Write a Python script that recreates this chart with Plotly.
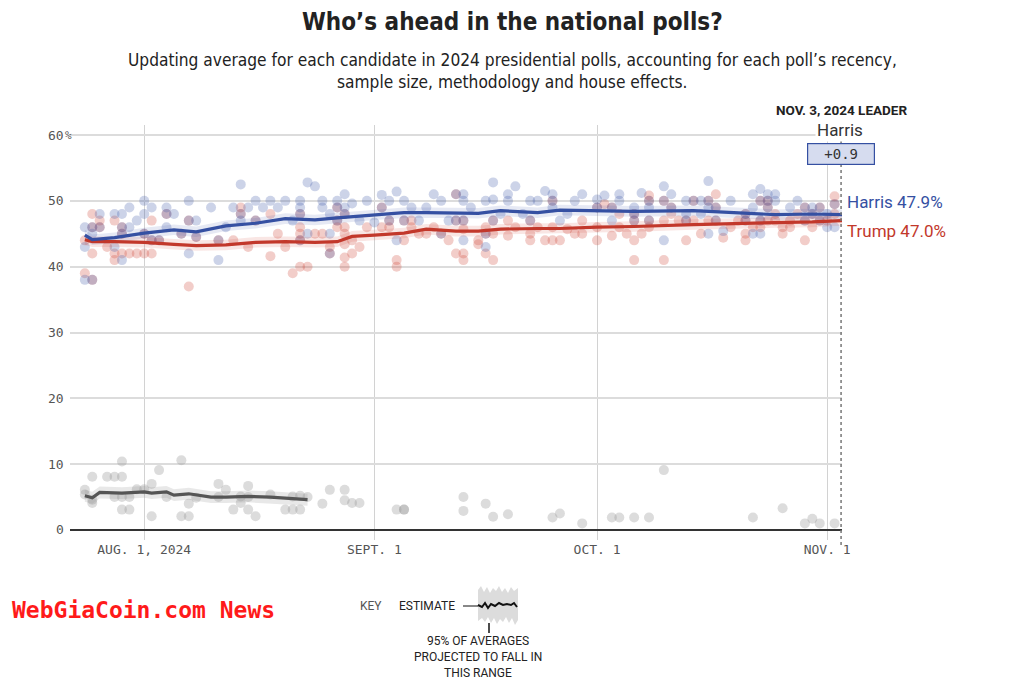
import plotly.graph_objects as go

# ---------------- DATA ----------------
trend_dates = ["2024-07-24", "2024-07-25", "2024-07-28", "2024-08-01", "2024-08-05", "2024-08-08",
               "2024-08-12", "2024-08-16", "2024-08-20", "2024-08-24", "2024-08-27", "2024-08-29",
               "2024-09-01", "2024-09-05", "2024-09-08", "2024-09-12", "2024-09-15", "2024-09-18",
               "2024-09-23", "2024-09-26", "2024-10-01", "2024-10-06", "2024-10-14", "2024-10-20",
               "2024-10-25", "2024-10-30", "2024-11-03"]
harris_trend = [44.8, 44.1, 44.4, 45.1, 45.6, 45.3, 46.2, 46.6, 47.3, 47.1, 47.4, 47.6, 47.9, 48.2,
                48.2, 48.2, 48.1, 48.5, 48.2, 48.6, 48.5, 48.4, 48.5, 48.2, 47.9, 48.0, 47.9]
trump_trend = [44.1, 43.8, 43.8, 43.7, 43.4, 43.2, 43.3, 43.7, 43.8, 43.7, 43.8, 44.6, 44.8, 45.1,
               45.7, 45.4, 45.4, 45.7, 45.8, 45.8, 46.0, 46.1, 46.4, 46.6, 46.7, 46.8, 47.0]
other_trend_dates = ["2024-07-24", "2024-07-25", "2024-07-26", "2024-07-29", "2024-08-01", "2024-08-02",
                     "2024-08-04", "2024-08-05", "2024-08-07", "2024-08-10", "2024-08-12", "2024-08-15",
                     "2024-08-18", "2024-08-20", "2024-08-23"]
other_trend = [5.2, 4.9, 5.7, 5.6, 5.8, 5.6, 5.8, 5.3, 5.5, 5.0, 5.0, 5.1, 5.0, 4.8, 4.6]

harris_polls = {
    "07-24": [46, 43, 38], "07-25": [45, 46, 38], "07-26": [48, 46], "07-28": [48, 43],
    "07-29": [48, 46, 45, 41], "07-30": [49, 46], "07-31": [47], "08-01": [50, 48, 45],
    "08-02": [49, 44], "08-03": [44], "08-04": [49, 48, 46], "08-05": [48], "08-06": [45],
    "08-07": [50, 47, 42], "08-08": [47, 44.5], "08-10": [49], "08-11": [41, 44], "08-12": [46],
    "08-13": [49], "08-14": [52.5, 48, 47], "08-15": [49], "08-16": [50, 47], "08-17": [49],
    "08-18": [50], "08-19": [49], "08-20": [50], "08-21": [47], "08-22": [50, 49, 48, 44],
    "08-23": [52.8, 45], "08-24": [52.2], "08-25": [50, 49], "08-26": [48, 45, 42],
    "08-27": [50, 49, 47], "08-28": [51, 49, 48], "08-29": [49.6], "08-30": [47], "08-31": [50],
    "09-01": [46.7], "09-02": [50.9, 49], "09-03": [50, 47], "09-04": [51.4, 44], "09-05": [50, 47],
    "09-06": [49], "09-07": [47], "09-08": [49], "09-09": [51], "09-10": [50, 45], "09-11": [47],
    "09-12": [51, 47], "09-13": [51, 50, 47, 44], "09-14": [49], "09-16": [50, 45, 43],
    "09-17": [52.8, 50.2, 47], "09-18": [48], "09-19": [51, 50], "09-20": [52.2], "09-21": [48],
    "09-22": [50, 47], "09-23": [50], "09-24": [51.5], "09-25": [51, 50, 49], "09-26": [47],
    "09-27": [48], "09-28": [50], "09-29": [51], "10-01": [50.2, 49], "10-02": [50.8],
    "10-03": [49, 47], "10-04": [51, 50], "10-06": [49, 48, 47], "10-07": [51.2], "10-08": [50, 49, 47],
    "10-10": [52.2, 50, 44], "10-11": [51, 49], "10-13": [50, 48, 47], "10-14": [50], "10-15": [50, 48],
    "10-16": [53, 50, 49, 45], "10-17": [49, 47], "10-18": [45.4], "10-19": [50], "10-21": [48, 47],
    "10-22": [51, 49, 45], "10-23": [51.8, 50, 47, 45], "10-24": [51, 50, 49], "10-25": [51, 50],
    "10-27": [49], "10-28": [50], "10-29": [49, 47], "10-30": [49, 48], "10-31": [49, 47],
    "11-01": [48, 46], "11-02": [49.5, 46],
}
trump_polls = {
    "07-24": [44, 39], "07-25": [48, 46, 42, 38], "07-26": [47, 46], "07-27": [43], "07-28": [47, 42, 41],
    "07-29": [46, 45, 42], "07-30": [42], "07-31": [42], "08-01": [45, 42], "08-02": [47, 44, 42],
    "08-03": [44], "08-04": [48], "08-06": [45], "08-07": [47, 37], "08-08": [44.5], "08-11": [44],
    "08-13": [44], "08-14": [49, 48], "08-15": [43], "08-16": [47], "08-18": [48, 41.6], "08-19": [45],
    "08-20": [43], "08-21": [39], "08-22": [48, 46, 45, 44, 40], "08-23": [40], "08-24": [45],
    "08-25": [45], "08-26": [43, 42], "08-27": [49, 47, 46], "08-28": [48, 46, 45, 43.4, 41.4, 40],
    "08-29": [44, 42], "08-30": [43], "08-31": [46], "09-02": [49, 46], "09-03": [47, 46],
    "09-04": [41, 40], "09-05": [47, 44], "09-06": [47, 46], "09-07": [45], "09-08": [45], "09-09": [46],
    "09-10": [45], "09-11": [44], "09-12": [51, 47, 42], "09-13": [47, 45.7, 42, 41], "09-15": [44, 43.4],
    "09-16": [46, 45, 42], "09-17": [47, 45, 41], "09-19": [47, 44.7], "09-20": [46], "09-22": [47, 45, 44],
    "09-23": [46], "09-24": [44], "09-25": [50, 46, 44], "09-26": [44], "09-27": [45.7], "09-28": [45],
    "09-29": [47, 45], "10-01": [49, 46, 44], "10-02": [49.5], "10-03": [49, 44.7], "10-04": [48, 46],
    "10-05": [45], "10-06": [48, 47, 44, 41], "10-07": [45], "10-08": [50.8, 50, 47, 46],
    "10-10": [50, 47, 41], "10-11": [49, 48], "10-12": [47], "10-13": [47, 44], "10-14": [50, 47],
    "10-15": [45], "10-16": [50, 47], "10-17": [51, 49, 47], "10-18": [44.4], "10-19": [46],
    "10-20": [47], "10-21": [48, 47, 45, 44], "10-22": [46], "10-23": [50, 47, 46], "10-24": [50, 49, 47],
    "10-25": [48, 47], "10-26": [46, 45], "10-27": [47, 46], "10-28": [48], "10-29": [49, 47, 44],
    "10-30": [48, 46], "10-31": [49, 47], "11-01": [47], "11-02": [50.7, 49.5, 48],
}
other_polls = {
    "07-24": [6.1, 5.4], "07-25": [8.1, 4.1, 4.6], "07-27": [8.1], "07-28": [8.1, 5.0],
    "07-29": [10.4, 8.1, 5.0, 3.1], "07-30": [5.0, 3.1], "07-31": [6.2], "08-01": [6.2],
    "08-02": [7.0, 2.1], "08-03": [9.1], "08-04": [5.0], "08-06": [10.6, 2.1], "08-07": [4.0, 2.1],
    "08-08": [4.9], "08-11": [7.0, 5.0], "08-12": [6.1], "08-13": [3.1], "08-14": [4.1, 5.1],
    "08-15": [6.7, 3.1, 5.0], "08-16": [2.1], "08-18": [5.4], "08-20": [3.1], "08-21": [3.1, 5.1],
    "08-22": [3.1, 5.2], "08-23": [5.0], "08-25": [4.0], "08-26": [6.1], "08-28": [6.1, 4.5],
    "08-29": [4.1], "08-30": [4.1], "09-04": [3.1], "09-05": [3.1, 3.1], "09-13": [5.0, 2.9],
    "09-16": [4.0], "09-17": [2.0], "09-19": [2.4], "09-25": [1.9], "09-26": [2.5], "09-29": [1.0],
    "10-03": [1.9], "10-04": [1.9], "10-06": [1.9], "10-08": [1.9], "10-10": [9.1], "10-22": [1.9],
    "10-26": [3.3], "10-29": [1.0], "10-30": [1.7], "10-31": [1.0], "11-02": [1.0],
}
y_ticks = [0, 10, 20, 30, 40, 50, 60]
x_tick_dates = ["2024-08-01", "2024-09-01", "2024-10-01", "2024-11-01"]
x_tick_labels = ["AUG. 1, 2024", "SEPT. 1", "OCT. 1", "NOV. 1"]
leader_name = "Harris"
leader_margin = "+0.9"
harris_final = 47.9
trump_final = 47.0

# ---------------- HELPERS ----------------
# plot area in screen pixels (page body has an 8px offset)
OFF = 8
L, RE, T, B = 70, 842, 125, 540


def px(x):
    return (x - L) / (RE - L)


def py(y):
    return (B - y) / (B - T)


def expand(polls):
    xs, ys = [], []
    for d, vals in polls.items():
        for v in vals:
            xs.append("2024-" + d)
            ys.append(v)
    return xs, ys


BLUE = "#3550a2"
RED = "#c2382b"
MONO = "DejaVu Sans Mono"
SANS = "Liberation Sans Narrow, DejaVu Sans Condensed, Roboto, sans-serif"

fig = go.Figure()

# poll dots
for polls, col in [(other_polls, "rgba(150,150,150,0.33)"),
                   (trump_polls, "rgba(205,60,48,0.26)"),
                   (harris_polls, "rgba(58,85,168,0.26)")]:
    xs, ys = expand(polls)
    fig.add_trace(go.Scatter(x=xs, y=ys, mode="markers", hoverinfo="skip",
                             marker=dict(size=10, color=col, line=dict(width=0))))

# uncertainty bands
for dates, vals, hw, col in [(other_trend_dates, other_trend, 0.9, "rgba(150,150,150,0.22)"),
                             (trend_dates, trump_trend, 0.8, "rgba(205,60,48,0.13)"),
                             (trend_dates, harris_trend, 0.8, "rgba(58,85,168,0.13)")]:
    up = [v + hw for v in vals]
    lo = [v - hw for v in vals]
    fig.add_trace(go.Scatter(x=dates + dates[::-1], y=up + lo[::-1], fill="toself",
                             fillcolor=col, line=dict(width=0), mode="lines", hoverinfo="skip"))

# trend lines
for dates, vals, col in [(other_trend_dates, other_trend, "#555555"),
                         (trend_dates, trump_trend, RED),
                         (trend_dates, harris_trend, BLUE)]:
    fig.add_trace(go.Scatter(x=dates, y=vals, mode="lines", hoverinfo="skip",
                             line=dict(color=col, width=3.2)))

ann = []
# titles
ann.append(dict(text="<b>Who’s ahead in the national polls?</b>", x=px(512), y=py(22),
                font=dict(family=SANS, size=24, color="#222")))
ann.append(dict(text="Updating average for each candidate in 2024 presidential polls, accounting for each poll’s recency,",
                x=px(512), y=py(60), font=dict(family=SANS, size=17.2, color="#222")))
ann.append(dict(text="sample size, methodology and house effects.", x=px(512), y=py(82),
                font=dict(family=SANS, size=17.2, color="#222")))

# y tick labels
for t in y_ticks:
    ann.append(dict(text=str(t), x=px(66), y=t, yref="y", xanchor="right",
                    font=dict(family=MONO, size=13, color="#555")))
ann.append(dict(text="%", x=px(62.5), y=60, yref="y", xanchor="left",
                font=dict(family=MONO, size=11, color="#555")))

# leader header
ann.append(dict(text="<b>NOV. 3, 2024 LEADER</b>", x=px(841), y=py(110),
                font=dict(family="Roboto", size=13.5, color="#222")))
ann.append(dict(text=leader_name, x=px(840), y=py(130), bgcolor="white",
                font=dict(family="Roboto", size=17, color="#333")))
ann.append(dict(text=leader_margin, x=px(841), y=py(154), bgcolor="#d6dcef", bordercolor=BLUE,
                borderwidth=1.2, borderpad=2, width=62, height=16,
                font=dict(family=MONO, size=14, color="#333")))

# end labels
ann.append(dict(text=f"Harris {harris_final}%", x=px(845), y=py(202), xanchor="left",
                font=dict(family="Roboto", size=17, color=BLUE)))
ann.append(dict(text=f"Trump {trump_final}%", x=px(845), y=py(231), xanchor="left",
                font=dict(family="Roboto", size=17, color=RED)))

# key
ann.append(dict(text="KEY", x=px(371), y=py(606), font=dict(family="Roboto", size=12, color="#555")))
ann.append(dict(text="ESTIMATE", x=px(427), y=py(606), font=dict(family="Roboto", size=12, color="#222")))
for txt, yy in [("95% OF AVERAGES", 641), ("PROJECTED TO FALL IN", 657), ("THIS RANGE", 673)]:
    ann.append(dict(text=txt, x=px(478), y=py(yy), font=dict(family="Roboto", size=12, color="#222")))

# watermark
ann.append(dict(text="<b>WebGiaCoin.com News</b>", x=px(10), y=py(610), xanchor="left",
                font=dict(family=MONO, size=23, color="#ff1a1a")))

for a in ann:
    a.setdefault("xref", "paper")
    a.setdefault("yref", "paper")
    a.setdefault("showarrow", False)
    a.setdefault("xanchor", "center")
    a.setdefault("yanchor", "middle")
fig.update_layout(annotations=ann)


def P(x, y):
    return f"{px(x):.5f},{py(y):.5f}"


shapes = []
# dotted leader line
shapes.append(dict(type="line", xref="x", yref="paper", x0="2024-11-02 21:00", x1="2024-11-02 21:00",
                   y0=py(140), y1=py(546), line=dict(color="#777", width=1.5, dash="dot")))
# key band
top = [(478, 590), (481, 586), (484, 592), (487, 587), (490, 593), (493, 588), (496, 591), (499, 586),
       (502, 592), (505, 588), (508, 593), (511, 587), (514, 591), (518, 588)]
bot = [(518, 620), (515, 625), (512, 618), (509, 623), (506, 617), (503, 622), (500, 619), (497, 624),
       (494, 618), (491, 623), (488, 617), (485, 622), (482, 618), (478, 621)]
path = "M " + " L ".join(P(x, y) for x, y in top + bot) + " Z"
shapes.append(dict(type="path", xref="paper", yref="paper", path=path,
                   fillcolor="#dcdcdc", line=dict(width=0)))
est = [(478, 605), (482, 607), (485, 603), (488, 608), (491, 604), (495, 606), (499, 603), (503, 605),
       (507, 604), (511, 605), (514, 603), (517, 607)]
shapes.append(dict(type="path", xref="paper", yref="paper",
                   path="M " + " L ".join(P(x, y) for x, y in est), line=dict(color="#111", width=2)))
shapes.append(dict(type="line", xref="paper", yref="paper", x0=px(463), x1=px(478), y0=py(606), y1=py(606),
                   line=dict(color="#111", width=1)))
shapes.append(dict(type="line", xref="paper", yref="paper", x0=px(489), x1=px(489), y0=py(623), y1=py(633),
                   line=dict(color="#111", width=1.5)))
fig.update_layout(shapes=shapes)

fig.update_layout(
    width=1024, height=689, autosize=False,
    margin=dict(l=L - OFF, r=1024 - (RE - OFF), t=T - OFF, b=689 - (B - OFF), pad=0),
    paper_bgcolor="white", plot_bgcolor="white", showlegend=False,
    xaxis=dict(type="date", range=["2024-07-22", "2024-11-03"], tickvals=x_tick_dates,
               ticktext=x_tick_labels, showgrid=True, gridcolor="#d2d2d2", gridwidth=1,
               zeroline=False, showline=False, ticks="",
               tickfont=dict(family=MONO, size=13, color="#555")),
    yaxis=dict(range=[-1.52, 61.52], tickvals=y_ticks, showticklabels=False, showgrid=True,
               gridcolor="#dcdcdc", gridwidth=1.5, zeroline=True, zerolinecolor="#333",
               zerolinewidth=1.5, showline=False, ticks=""),
)

fig.write_html("out.html")
